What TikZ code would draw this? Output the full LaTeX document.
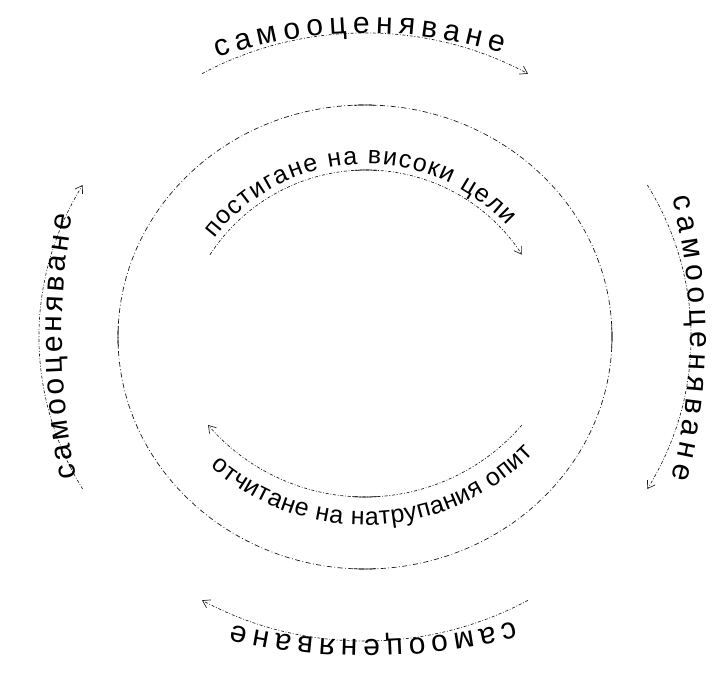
\documentclass[tikz,border=0pt]{standalone}
\usepackage{fontspec}
\setmainfont{Liberation Sans}
\newfontfamily\cyclefont{Liberation Sans}
\usetikzlibrary{arrows.meta,decorations.text}

\begin{document}
\begin{tikzpicture}[x=1pt,y=1pt,
  ring/.style={line width=0.7pt,black!90,dash pattern=on 5pt off 2.5pt on 0.8pt off 2.5pt},
  loop arrow/.style={line width=0.65pt,black!90,dash pattern=on 3pt off 1.8pt on 0.8pt off 1.8pt,
    -{Straight Barb[length=7pt,width=9pt]}},
  outer text/.style={decorate,decoration={text along path,text align={fit to path},
    text={|\cyclefont\fontsize{30}{30}\selectfont|#1}}},
  inner text/.style={decorate,decoration={text along path,text align={fit to path},
    text={|\cyclefont\fontsize{25}{25}\selectfont|#1}}}]
\useasboundingbox (-365,-338) rectangle (349,337);
% main circle
\draw[ring] (0,0) ellipse[x radius=247,y radius=232];
\foreach \a in {0,90,180,270}
  \draw[line width=0.7pt] ({247*cos(\a-2.6)},{232*sin(\a-2.6)}) arc[start angle=\a-2.6,end angle=\a+2.6,x radius=247,y radius=232];
% outer arrows, clockwise
\draw[loop arrow] (120:326 and 304) arc[start angle=120,end angle=60,x radius=326,y radius=304];
\draw[loop arrow] (30:326 and 304) arc[start angle=30,end angle=-30,x radius=326,y radius=304];
\draw[loop arrow] (-60:326 and 304) arc[start angle=-60,end angle=-120,x radius=326,y radius=304];
\draw[loop arrow] (210:326 and 304) arc[start angle=210,end angle=150,x radius=326,y radius=304];
\path[outer text=самооценяване] ([shift={(2,-159)}]108.9:463) arc[start angle=108.9,end angle=73,radius=463];
\path[outer text=самооценяване] ([shift={(-228,0)}]14.6:553) arc[start angle=14.6,end angle=-14.8,radius=553];
\path[outer text=самооценяване] ([shift={(2,291)}]-75.6:594) arc[start angle=-75.6,end angle=-103.1,radius=594];
\path[outer text=самооценяване] ([shift={(397,0)}]191.6:700) arc[start angle=191.6,end angle=170,radius=700];
% inner arrows
\draw[loop arrow] ([shift={(1,-19)}]147:186) arc[start angle=147,end angle=33,radius=186];
\draw[line width=0.7pt] ([shift={(1,-19)}]93.5:186) arc[start angle=93.5,end angle=86.5,radius=186];
\path[inner text=постигане на високи цели] ([shift={(1,-19)}]142.3:192) arc[start angle=142.3,end angle=42.7,radius=192];
\draw[loop arrow] ([shift={(0,47)}]-40.7:207) arc[start angle=-40.7,end angle=-139.3,radius=207];
\draw[line width=0.7pt] ([shift={(0,47)}]-93.5:207) arc[start angle=-93.5,end angle=-86.5,radius=207];
\path[inner text=отчитане на натрупания опит] ([shift={(0,47)}]-131.2:235) arc[start angle=-131.2,end angle=-44.1,radius=235];
\end{tikzpicture}
\end{document}
